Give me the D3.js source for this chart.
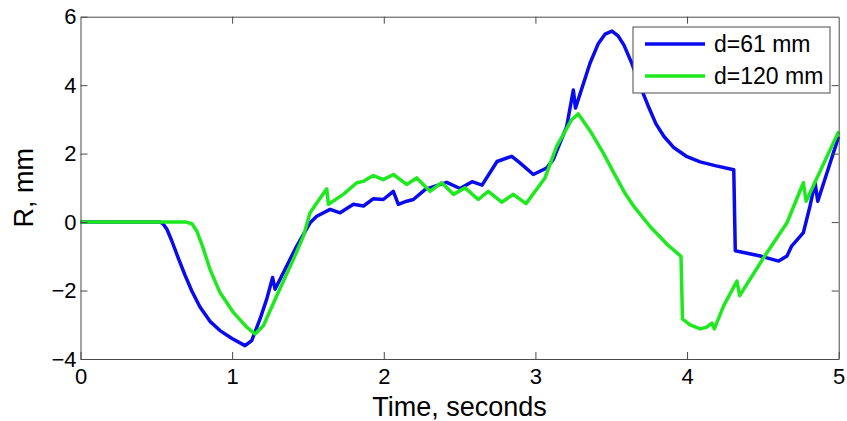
<!DOCTYPE html>
<html>
<head>
<meta charset="utf-8">
<script src="https://cdn.jsdelivr.net/npm/d3@7"></script>
<style>
  body { margin: 0; background: #fff; }
  svg { display: block; font-family: "Liberation Sans", Arial, sans-serif; }
</style>
</head>
<body>
<div id="chart"></div>
<script>
// series: time (s) and R (mm)
const seriesNames = ['d=61 mm', 'd=120 mm'];
const seriesColors = ['#0a0aee', '#1ee81e'];

const tBlue = [0, 0.524, 0.544, 0.570, 0.603, 0.643, 0.689, 0.735, 0.788, 0.854, 0.920, 0.999, 1.085, 1.129, 1.184,
  1.228, 1.267, 1.283, 1.426, 1.514, 1.558, 1.646, 1.712, 1.80, 1.866, 1.93, 1.997, 2.063, 2.096, 2.151,
  2.195, 2.272, 2.303, 2.415, 2.503, 2.582, 2.648, 2.747, 2.844, 2.898, 2.986, 3.074, 3.118, 3.206, 3.25,
  3.264, 3.36, 3.413, 3.459, 3.505, 3.545, 3.584, 3.637, 3.690, 3.743, 3.795, 3.848, 3.914, 4.0, 4.086,
  4.185, 4.308, 4.318, 4.483, 4.604, 4.659, 4.690, 4.767, 4.811, 4.844, 4.862, 5.0];
const rBlue = [0, 0, -0.05, -0.21, -0.56, -1.03, -1.55, -2.02, -2.48, -2.90, -3.17, -3.40, -3.61, -3.46, -2.83,
  -2.25, -1.62, -1.96, -0.70, -0.02, 0.17, 0.37, 0.27, 0.52, 0.47, 0.68, 0.66, 0.90, 0.52, 0.61,
  0.66, 0.95, 1.00, 1.16, 0.98, 1.18, 1.08, 1.77, 1.92, 1.73, 1.39, 1.58, 1.83, 2.79, 3.86,
  3.33, 4.64, 5.20, 5.49, 5.58, 5.44, 5.17, 4.62, 3.98, 3.40, 2.87, 2.50, 2.17, 1.91, 1.76,
  1.65, 1.53, -0.84, -0.99, -1.14, -0.99, -0.70, -0.31, 0.47, 1.15, 0.61, 2.50];

const tGreen = [0, 0.696, 0.735, 0.768, 0.808, 0.854, 0.92, 1.008, 1.096, 1.151, 1.206, 1.294, 1.404, 1.47, 1.514,
  1.558, 1.624, 1.635, 1.733, 1.822, 1.866, 1.931, 1.997, 2.063, 2.151, 2.217, 2.305, 2.382, 2.459, 2.536,
  2.623, 2.689, 2.778, 2.854, 2.938, 3.063, 3.14, 3.239, 3.283, 3.36, 3.446, 3.525, 3.591, 3.644, 3.756,
  3.868, 3.96, 3.97, 4.02, 4.087, 4.13, 4.164, 4.18, 4.241, 4.329, 4.347, 4.505, 4.659, 4.767, 4.785, 5.0];
const rGreen = [0, 0, -0.05, -0.27, -0.75, -1.38, -2.06, -2.64, -3.07, -3.27, -3.03, -2.15, -1.09, -0.41, 0.27,
  0.56, 0.97, 0.52, 0.81, 1.15, 1.19, 1.36, 1.24, 1.39, 1.10, 1.29, 0.90, 1.15, 0.81, 1.00,
  0.66, 0.90, 0.58, 0.81, 0.54, 1.29, 2.21, 2.99, 3.16, 2.67, 2.03, 1.37, 0.84, 0.49, -0.13,
  -0.65, -1.00, -2.83, -3.0, -3.12, -3.07, -2.95, -3.12, -2.45, -1.72, -2.15, -1.04, -0.02, 1.15, 0.61, 2.65];

const xTicks = [0, 1, 2, 3, 4, 5];
const yTicks = [-4, -2, 0, 2, 4, 6];
const yTickLabels = ['\u22124', '\u22122', '0', '2', '4', '6'];

const W = 847, H = 421;
const margin = { top: 16.7, right: 8.3, bottom: 62, left: 80.5 };
const innerW = W - margin.left - margin.right;
const innerH = H - margin.top - margin.bottom;

const svg = d3.select('#chart').append('svg')
  .attr('width', W)
  .attr('height', H);

const g = svg.append('g')
  .attr('transform', `translate(${margin.left},${margin.top})`);

const x = d3.scaleLinear().domain([0, 5]).range([0, innerW]);
const y = d3.scaleLinear().domain([-4, 6]).range([innerH, 0]);

const series = [
  tBlue.map((t, i) => ({ t: t, r: rBlue[i] })),
  tGreen.map((t, i) => ({ t: t, r: rGreen[i] }))
];

const line = d3.line().x(d => x(d.t)).y(d => y(d.r));

g.selectAll('path.series')
  .data(series)
  .enter()
  .append('path')
  .attr('class', 'series')
  .attr('d', line)
  .attr('fill', 'none')
  .attr('stroke', (d, i) => seriesColors[i])
  .attr('stroke-width', 3.5)
  .attr('stroke-linejoin', 'round');

// box axes, MATLAB style ticks pointing inward
function styleAxis(sel) {
  sel.select('.domain').attr('stroke', '#4a4a4a');
  sel.selectAll('.tick line').attr('stroke', '#4a4a4a');
  sel.selectAll('.tick text').attr('fill', '#000').style('font-size', '22px');
}

g.append('g')
  .attr('transform', `translate(0,${innerH})`)
  .call(d3.axisBottom(x).tickValues(xTicks).tickFormat(d3.format('d')).tickSizeInner(-7).tickSizeOuter(0).tickPadding(9))
  .call(styleAxis)
  .attr('font-family', null);

g.append('g')
  .call(d3.axisLeft(y).tickValues(yTicks).tickFormat((d, i) => yTickLabels[i]).tickSizeInner(-7).tickSizeOuter(0).tickPadding(4))
  .call(styleAxis)
  .attr('font-family', null);

g.append('g')
  .call(d3.axisTop(x).tickValues(xTicks.slice(1, -1)).tickFormat('').tickSizeInner(-7).tickSizeOuter(0))
  .call(styleAxis);

g.append('g')
  .attr('transform', `translate(${innerW},0)`)
  .call(d3.axisRight(y).tickValues(yTicks.slice(1, -1)).tickFormat('').tickSizeInner(-7).tickSizeOuter(0))
  .call(styleAxis);

// axis titles
svg.append('text')
  .attr('x', margin.left + innerW / 2)
  .attr('y', 416)
  .attr('text-anchor', 'middle')
  .style('font-size', '27px')
  .text('Time, seconds');

svg.append('text')
  .attr('transform', `translate(33,${margin.top + innerH / 2}) rotate(-90)`)
  .attr('text-anchor', 'middle')
  .style('font-size', '27px')
  .text('R, mm');

// legend
const legend = svg.append('g').attr('transform', 'translate(633,27)');
legend.append('rect')
  .attr('width', 197)
  .attr('height', 66)
  .attr('fill', '#fff')
  .attr('stroke', '#4a4a4a');

const items = legend.selectAll('g.item')
  .data(seriesNames)
  .enter()
  .append('g')
  .attr('class', 'item')
  .attr('transform', (d, i) => `translate(0,${17 + i * 32})`);

items.append('line')
  .attr('x1', 12)
  .attr('x2', 72)
  .attr('stroke', (d, i) => seriesColors[i])
  .attr('stroke-width', 3.5);

items.append('text')
  .attr('x', 81)
  .attr('dy', '0.35em')
  .style('font-size', '23px')
  .text(d => d);
</script>
</body>
</html>
